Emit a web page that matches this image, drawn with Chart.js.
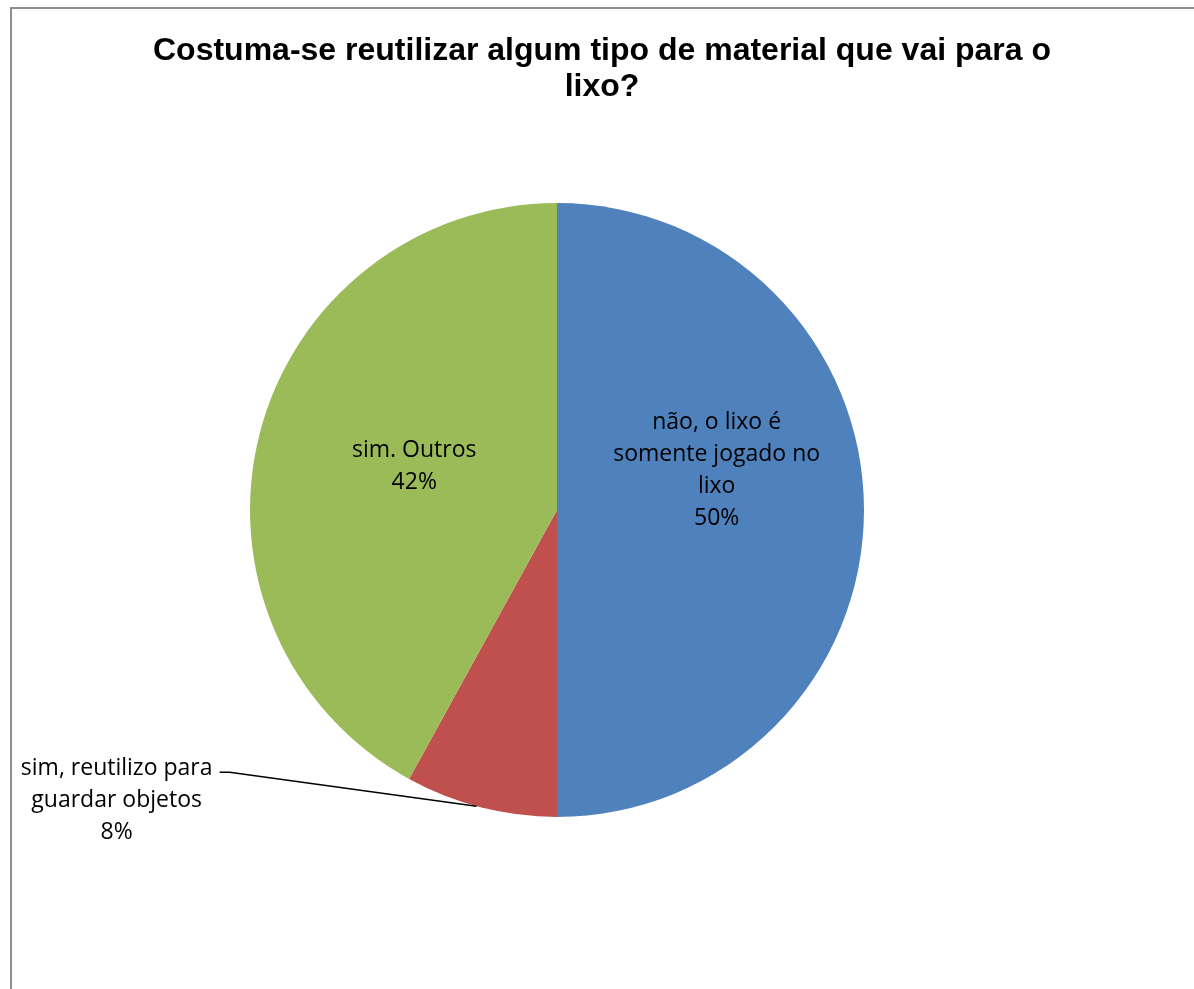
<!DOCTYPE html>
<html>
<head>
<meta charset="utf-8">
<script src="https://cdn.jsdelivr.net/npm/chart.js@4"></script>
<style>
  html, body { margin: 0; padding: 0; background: #fff; overflow: hidden; }
  #frame { position: absolute; left: 10px; top: 7px; width: 1300px; height: 1100px;
           border-left: 2px solid #8e8e8e; border-top: 2px solid #8e8e8e; }
  #pie { position: absolute; left: 0; top: 0; }
</style>
</head>
<body>
<div id="frame"></div>
<canvas id="pie" width="1194" height="989"></canvas>
<script>
const titleLines = ['Costuma-se reutilizar algum tipo de material que vai para o', 'lixo?'];
const categories = [
  ['não, o lixo é', 'somente jogado no', 'lixo'],
  ['sim, reutilizo para', 'guardar objetos'],
  ['sim. Outros']
];
const percents = [50, 8, 42];
const colors = ['#4F81BD', '#C0504D', '#9BBB59'];

const labelFont = '23px "Open Sans", "Noto Sans", sans-serif';

// title + data labels drawn on top of the pie
const labelsPlugin = {
  id: 'pieLabels',
  afterDraw(chart) {
    const ctx = chart.ctx;
    ctx.save();
    ctx.fillStyle = '#000';
    ctx.textAlign = 'center';
    ctx.textBaseline = 'middle';
    ctx.font = 'bold 32px "Liberation Sans", Arial, sans-serif';
    titleLines.forEach((t, i) => ctx.fillText(t, 602, 51 + i * 36));

    ctx.font = labelFont;
    const meta = chart.getDatasetMeta(0);
    const lh = 32;
    meta.data.forEach((arc, i) => {
      const lines = categories[i].concat([percents[i] + '%']);
      const mid = (arc.startAngle + arc.endAngle) / 2;
      if (i === 1) {
        // outside label with leader line
        const ex = arc.x + Math.cos(mid) * arc.outerRadius;
        const ey = arc.y + Math.sin(mid) * arc.outerRadius;
        ctx.strokeStyle = '#000';
        ctx.lineWidth = 1.5;
        ctx.beginPath();
        ctx.moveTo(ex - 4, ey - 1);
        ctx.lineTo(ex - 251, ey - 35);
        ctx.lineTo(ex - 261, ey - 35);
        ctx.stroke();
        lines.forEach((t, k) => ctx.fillText(t, ex - 364, ey - 39 + k * lh));
      } else {
        const r = arc.outerRadius * (i === 0 ? 0.52 : 0.48);
        const cx = arc.x + Math.cos(mid) * r;
        const cy = arc.y + Math.sin(mid) * r + (i === 0 ? -40 : -7);
        const top = cy - (lines.length - 1) * lh / 2;
        lines.forEach((t, k) => ctx.fillText(t, cx, top + k * lh));
      }
    });
    ctx.restore();
  }
};

new Chart(document.getElementById('pie'), {
  type: 'pie',
  data: {
    labels: categories.map(c => c.join(' ')),
    datasets: [{
      data: percents,
      backgroundColor: colors,
      borderWidth: 0
    }]
  },
  options: {
    responsive: false,
    animation: false,
    layout: { padding: { left: 250, top: 203, right: 330, bottom: 172 } },
    plugins: {
      legend: { display: false },
      tooltip: { enabled: false },
      title: { display: false }
    }
  },
  plugins: [labelsPlugin]
});
</script>
</body>
</html>
